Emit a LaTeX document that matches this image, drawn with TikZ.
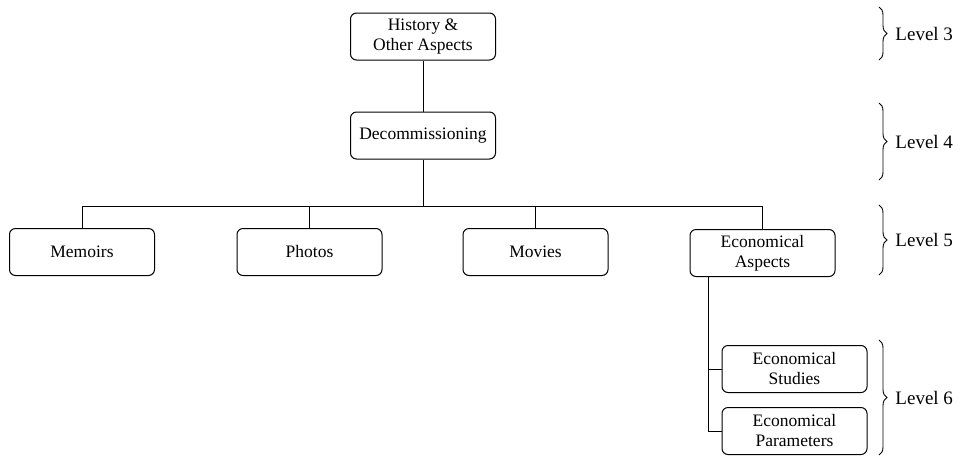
\documentclass[tikz,border=0pt]{standalone}
\usepackage{fontspec}
\setmainfont{Liberation Serif}
\usepackage{tikz}
\usetikzlibrary{decorations.pathreplacing}
\usepackage{xcolor}

\tikzset{
    box/.style={draw, line width=1pt, rounded corners=6pt, minimum width=145pt,
        minimum height=47pt, align=center, inner sep=2pt,
        font=\fontsize{17.5}{20}\selectfont},
    levelbrace/.style={draw, line width=0.9pt, decorate, decoration={brace, amplitude=8pt}},
    levellabel/.style={font=\fontsize{19}{22}\selectfont, inner sep=0pt}
}

\begin{document}
\begin{tikzpicture}[x=1pt, y=1pt, line width=1pt]
    \useasboundingbox (0,0) rectangle (971,-459);

    \node[box] (history) at (423,-36.5) {History \&\\Other Aspects};
    \node[box] (decom) at (423,-135.5) {Decommissioning};
    \node[box] (memoirs) at (82,-252) {Memoirs};
    \node[box] (photos) at (309.5,-252) {Photos};
    \node[box] (movies) at (535.5,-252) {Movies};
    \node[box] (econ) at (762.5,-253) {Economical\\Aspects};
    \node[box] (studies) at (794.5,-369) {Economical\\Studies};
    \node[box] (params) at (794.5,-431) {Economical\\Parameters};

    \coordinate (bus) at (0,-206);
    \coordinate (trunk) at (708,-277);

    \draw (history) -- (decom);
    \draw (decom) -- (decom |- bus);
    \draw (memoirs.north) -- (memoirs.north |- bus) -| (econ.north);
    \draw (photos) -- (photos |- bus);
    \draw (movies) -- (movies |- bus);
    \draw (trunk) |- (studies.west);
    \draw (trunk) |- (params.west);

    \foreach \top/\bot/\lvl in {7/60/3, 103/180/4, 205/275/5, 340/455/6}
        \draw[levelbrace] (879,-\top) -- (879,-\bot)
            node[midway, right=16pt, levellabel] (level\lvl) {Level \lvl};
\end{tikzpicture}
\end{document}
